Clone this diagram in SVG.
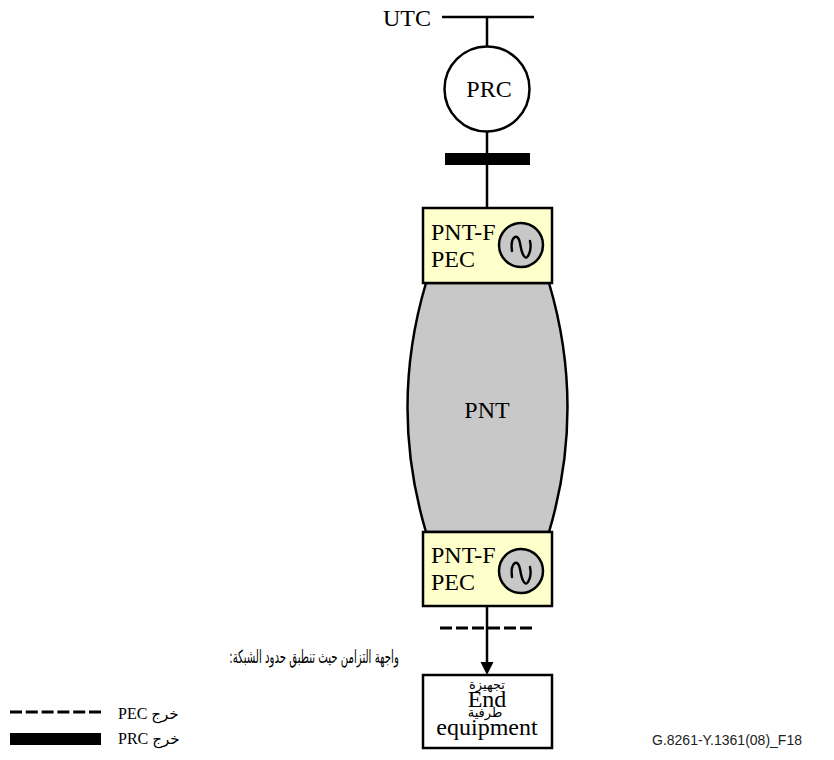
<svg xmlns="http://www.w3.org/2000/svg" width="834" height="760" viewBox="0 0 834 760">
<style>
.t{font-family:"Liberation Serif","DejaVu Sans",serif;fill:#000}
.ar{font-family:"DejaVu Sans","Noto Sans",sans-serif;fill:#000}
.ln{stroke:#000;stroke-width:2.5;fill:none}
.dash{stroke:#000;stroke-width:3;stroke-dasharray:12 4;fill:none}
.box{fill:#ffffcc;stroke:#000;stroke-width:2.5}
.osc{fill:#c8c8c8;stroke:#000;stroke-width:2.5}
.wave{fill:none;stroke:#000;stroke-width:2.4;stroke-linecap:round}
</style>
<rect width="834" height="760" fill="#fff"/>

<g id="connectors">
<line class="ln" x1="487" y1="17" x2="487" y2="47"/>
<line class="ln" x1="487" y1="131" x2="487" y2="208"/>
<line class="ln" x1="487" y1="606" x2="487" y2="663"/>
<path d="M480.5,662 L493.5,662 L487,675 Z" fill="#000"/>
</g>

<g id="utc">
<text class="t" x="383" y="26" font-size="24">UTC</text>
<line class="ln" x1="442" y1="17" x2="534" y2="17"/>
</g>

<g id="prc">
<circle cx="487" cy="89" r="42.5" fill="#fff" stroke="#000" stroke-width="2.5"/>
<text class="t" x="489" y="97" font-size="24" text-anchor="middle">PRC</text>
</g>

<g id="prc-output">
<rect x="445" y="153" width="85" height="12" fill="#000"/>
</g>

<g id="pnt">
<path d="M426,283 L549,283 Q586,407.5 549,532 L426,532 Q389,407.5 426,283 Z" fill="#c8c8c8" stroke="#000" stroke-width="2.5"/>
<text class="t" x="487" y="418" font-size="24" text-anchor="middle">PNT</text>
</g>

<g id="pntf-top">
<rect class="box" x="423" y="208" width="129" height="75"/>
<text class="t" x="431" y="240" font-size="24">PNT-F</text>
<text class="t" x="431" y="267" font-size="24">PEC</text>
<circle class="osc" cx="521" cy="245" r="22"/>
<path class="wave" d="M512,251 C510,236 518,232 520,243 C522,256 526,262 529,254 C531,250 531,246 530,241"/>
</g>

<g id="pntf-bottom">
<rect class="box" x="423" y="532" width="129" height="74"/>
<text class="t" x="431" y="563" font-size="24">PNT-F</text>
<text class="t" x="431" y="590" font-size="24">PEC</text>
<circle class="osc" cx="521" cy="571" r="22"/>
<path class="wave" d="M512,577 C510,562 518,558 520,569 C522,582 526,588 529,580 C531,576 531,572 530,567"/>
</g>

<g id="pec-output">
<line class="dash" x1="440" y1="628" x2="534" y2="628"/>
</g>

<g id="end-equipment">
<rect x="423" y="675" width="129" height="73" fill="#fff" stroke="#000" stroke-width="2.5"/>
<text class="ar" x="487" y="689" font-size="13" text-anchor="middle">تجهيزة</text>
<text class="t" x="487" y="707" font-size="24" text-anchor="middle">End</text>
<text class="ar" x="485" y="717" font-size="13" text-anchor="middle">طرفية</text>
<text class="t" x="487" y="735" font-size="24" text-anchor="middle">equipment</text>
</g>

<g id="legend">
<text class="ar" transform="translate(314,663) scale(0.565,1)" x="0" y="0" font-size="18" text-anchor="middle" direction="rtl" unicode-bidi="embed">واجهة التزامن حيث تنطبق حدود الشبكة:</text>
<line x1="10" y1="712" x2="101" y2="712" stroke="#000" stroke-width="3" stroke-dasharray="12 3.8"/>
<text class="t" x="118" y="719" font-size="16">PEC <tspan class="ar" font-size="15">خرج</tspan></text>
<rect x="10" y="733" width="91" height="12" fill="#000"/>
<text class="t" x="118" y="744" font-size="16">PRC <tspan class="ar" font-size="15">خرج</tspan></text>
</g>

<g id="footer">
<text x="652" y="745" font-family="Liberation Sans, Arial, sans-serif" font-size="14" fill="#222">G.8261-Y.1361(08)_F18</text>
</g>
</svg>
